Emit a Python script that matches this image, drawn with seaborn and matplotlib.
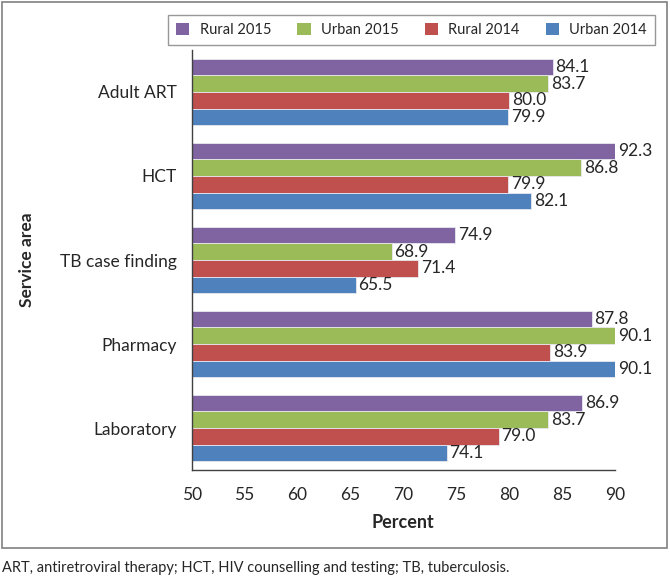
import matplotlib
matplotlib.use("Agg")
import matplotlib.pyplot as plt
from matplotlib.patches import Rectangle
import seaborn as sns
import pandas as pd
import numpy as np

categories = ["Adult ART", "HCT", "TB case finding", "Pharmacy", "Laboratory"]
series = ["Rural 2015", "Urban 2015", "Rural 2014", "Urban 2014"]
rural_2015 = [84.1, 92.3, 74.9, 87.8, 86.9]
urban_2015 = [83.7, 86.8, 68.9, 90.1, 83.7]
rural_2014 = [80.0, 79.9, 71.4, 83.9, 79.0]
urban_2014 = [79.9, 82.1, 65.5, 90.1, 74.1]
colors = ["#8064A2", "#9BBB59", "#C0504D", "#4F81BD"]
x_ticks = [50, 55, 60, 65, 70, 75, 80, 85, 90]

values = [rural_2015, urban_2015, rural_2014, urban_2014]
rows = []
for s, vals in zip(series, values):
    for c, v in zip(categories, vals):
        rows.append({"Service area": c, "Series": s, "Percent": v})
df = pd.DataFrame(rows)

sns.set_theme(style="white")
plt.rcParams["font.family"] = ["Lato", "DejaVu Sans"]
txt = "#262626"

W, H = 670, 582
fig = plt.figure(figsize=(W / 100, H / 100), dpi=100)
ax = fig.add_axes([191.7 / W, 1 - 470 / H, (615 - 191.7) / W, (470 - 50) / H])

sns.barplot(data=df, y="Service area", x="Percent", hue="Series",
            order=categories, hue_order=series, palette=colors,
            orient="h", width=0.79, ax=ax, edgecolor="#e8e8ef",
            linewidth=0.6, legend=False, saturation=1)

ax.set_xlim(50, 90)
ax.set_ylim(len(categories) - 0.5, -0.5)
ax.set_xticks(x_ticks)
ax.set_xticklabels([str(t) for t in x_ticks], fontsize=12.5, color=txt)
ax.set_yticks(range(len(categories)))
ax.set_yticklabels(categories, fontsize=12.5, color=txt)
ax.set_yticks(np.arange(-0.5, len(categories), 1), minor=True)
ax.tick_params(axis="y", which="major", length=0, pad=11)
ax.tick_params(axis="y", which="minor", length=6, width=1, color="#404040", direction="out")
ax.tick_params(axis="x", which="major", length=6, width=1, color="#404040", direction="out", pad=6)

for sp in ["top", "right"]:
    ax.spines[sp].set_visible(False)
for sp in ["left", "bottom"]:
    ax.spines[sp].set_color("#404040")
    ax.spines[sp].set_linewidth(1)

ax.set_xlabel("Percent", fontsize=13, fontweight="bold", color=txt, labelpad=8)
ax.set_ylabel("Service area", fontsize=12.5, fontweight="bold", color=txt, labelpad=18)

# value labels
n = len(series)
bw = 0.79 / n
for j, (s, vals) in enumerate(zip(series, values)):
    for i, v in enumerate(vals):
        yc = i - 0.79 / 2 + bw * (j + 0.5)
        ax.text(min(v, 90) + 0.25, yc, f"{v:.1f}", va="center", ha="left",
                fontsize=12.5, color=txt, clip_on=False)

# legend
handles = [Rectangle((0, 0), 1, 1, facecolor=c, edgecolor="none") for c in colors]
leg = fig.legend(handles, series, loc="upper right", bbox_to_anchor=(662 / W, 1 - 8 / H),
                 ncol=4, fontsize=10.5, frameon=True, fancybox=False,
                 handlelength=0.9, handleheight=0.9, handletextpad=0.7,
                 columnspacing=1.8, borderpad=0.55)
leg.get_frame().set_edgecolor("#7f7f7f")
leg.get_frame().set_linewidth(1)
for t in leg.get_texts():
    t.set_color(txt)

# outer frame
fig.patches.append(Rectangle((2 / W, 1 - 548 / H), 665 / W, 546 / H, transform=fig.transFigure,
                             fill=False, edgecolor="#808080", linewidth=1.2))

fig.text(2 / W, 1 - 568 / H, "ART, antiretroviral therapy; HCT, HIV counselling and testing; TB, tuberculosis.",
         fontsize=10.5, color=txt, va="center", ha="left")

fig.savefig("out.png", dpi=100)
